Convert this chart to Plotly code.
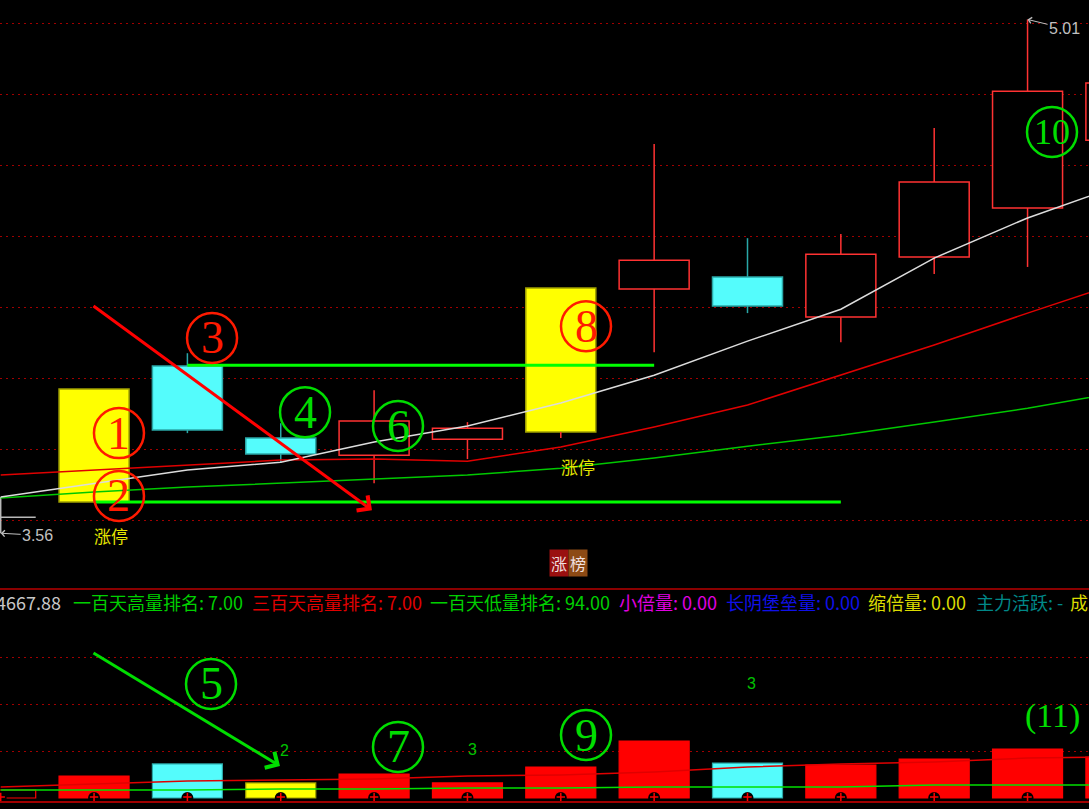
import plotly.graph_objects as go

W, H = 1089, 809

# ---------------- data ----------------
idx = list(range(13))
opens  = [3.608, 3.651, 4.034, 3.831, 3.783, 3.828, 3.848, 4.251, 4.285, 4.172, 4.341, 4.479, 4.670]
highs  = [3.665, 3.969, 4.070, 3.873, 3.966, 3.876, 4.254, 4.659, 4.394, 4.406, 4.704, 5.010, 4.900]
lows   = [3.563, 3.651, 3.845, 3.761, 3.704, 3.772, 3.831, 4.073, 4.183, 4.101, 4.293, 4.313, 4.600]
closes = [3.608, 3.969, 3.854, 3.786, 3.879, 3.859, 4.254, 4.332, 4.203, 4.349, 4.552, 4.808, 4.831]
limit_up = [0, 1, 0, 0, 0, 0, 1, 0, 0, 0, 0, 0, 0]

ma5  = [3.665, 3.704, 3.741, 3.763, 3.820, 3.865, 3.930, 4.008, 4.104, 4.194, 4.338, 4.451, 4.544]
ma10 = [3.727, 3.741, 3.755, 3.769, 3.772, 3.766, 3.806, 3.862, 3.924, 4.008, 4.093, 4.183, 4.270]
ma20 = [3.662, 3.679, 3.693, 3.704, 3.715, 3.727, 3.746, 3.775, 3.808, 3.839, 3.876, 3.915, 3.961]

volume   = [850, 2340, 3620, 1600, 2550, 1600, 3300, 6060, 3720, 3510, 4150, 5210, 4360]
vol_kind = ['hollow', 'red', 'cyan', 'yellow', 'red', 'red', 'red', 'red', 'cyan', 'red', 'red', 'red', 'red']
vol_ma_a = [1170, 1490, 1810, 1915, 2020, 2340, 2450, 2770, 3300, 3620, 3830, 4255, 4360]
vol_ma_b = [850, 850, 850, 960, 960, 1060, 1060, 1170, 1170, 1170, 1380, 1380, 1380]

# support / resistance lines: (start idx, end idx, price)
hlines = [(2, 7, 4.036), (1, 9, 3.651)]

price_ticks = [3.6, 3.8, 4.0, 4.2, 4.4, 4.6, 4.8, 5.0]
vol_ticks = [5000, 10000, 15000]

limit_labels = [(1, '涨停', -33), (6, '涨停', -28)]
count_labels = [(3.045, 5100, '2'), (5.05, 5210, '3'), (8.04, 12130, '3')]

info_items = [
    ('4667.88', '#c8c8c8', 63, 'right'),
    ('一百天高量排名: 7.00', '#00d000', 71, 'left'),
    ('三百天高量排名: 7.00', '#e00000', 250, 'left'),
    ('一百天低量排名: 94.00', '#00d000', 428, 'left'),
    ('小倍量: 0.00', '#e000e0', 617, 'left'),
    ('长阴堡垒量: 0.00', '#1010e8', 724, 'left'),
    ('缩倍量: 0.00', '#dcdc00', 866, 'left'),
    ('主力活跃: -', '#008888', 974, 'left'),
    ('成交量: ', '#dcdc00', 1068, 'left'),
]

# circled markers: (text, x idx, value, color, axis)
RED_C = '#ff1a00'
GRN_C = '#00dd00'
circled = [
    ('1', 1.267, 3.845, RED_C, 'y'),
    ('2', 1.267, 3.668, RED_C, 'y'),
    ('3', 2.264, 4.113, RED_C, 'y'),
    ('4', 3.260, 3.904, GRN_C, 'y'),
    ('6', 4.256, 3.865, GRN_C, 'y'),
    ('8', 6.270, 4.146, RED_C, 'y'),
    ('10', 11.262, 4.693, GRN_C, 'y'),
    ('5', 2.253, 12130, GRN_C, 'y2'),
    ('7', 4.256, 5430, GRN_C, 'y2'),
    ('9', 6.270, 6700, GRN_C, 'y2'),
]
plain_marks = [('(11)', 11.262, 8720, GRN_C, 'y2')]

# ---------------- colours ----------------
UP = '#ff3232'
DN_FILL = '#54fcfc'
DN_LINE = '#2aa8a8'
YEL = '#ffff00'
YEL_LINE = '#a0a000'
DOJI = '#b8b8b8'

fig = go.Figure()

# wicks
def wick_xy(sel):
    xs, ys = [], []
    for i, o, h, l, c in zip(idx, opens, highs, lows, closes):
        if not sel(o, c):
            continue
        top, bot = max(o, c), min(o, c)
        if h > top:
            xs += [i, i, None]; ys += [h, top, None]
        if l < bot:
            xs += [i, i, None]; ys += [bot, l, None]
    return xs, ys

xs, ys = wick_xy(lambda o, c: c > o)
fig.add_trace(go.Scatter(x=xs, y=ys, mode='lines', line=dict(color=UP, width=1.5), hoverinfo='skip'))
xs, ys = wick_xy(lambda o, c: c < o)
fig.add_trace(go.Scatter(x=xs, y=ys, mode='lines', line=dict(color=DN_LINE, width=1.5), hoverinfo='skip'))
# doji
dx, dy = [], []
for i, o, h, l, c in zip(idx, opens, highs, lows, closes):
    if o == c:
        dx += [i - 0.375, i + 0.375, None, i, i, None]
        dy += [o, o, None, h, l, None]
fig.add_trace(go.Scatter(x=dx, y=dy, mode='lines', line=dict(color=DOJI, width=1.5), hoverinfo='skip'))

# bodies
b_base, b_h, b_fill, b_line = [], [], [], []
for o, c, lu in zip(opens, closes, limit_up):
    if o == c:
        b_base.append(None); b_h.append(None); b_fill.append('black'); b_line.append(DOJI)
        continue
    b_base.append(min(o, c)); b_h.append(abs(c - o))
    if lu:
        b_fill.append(YEL); b_line.append(YEL_LINE)
    elif c > o:
        b_fill.append('black'); b_line.append(UP)
    else:
        b_fill.append(DN_FILL); b_line.append(DN_LINE)
fig.add_trace(go.Bar(x=idx, y=b_h, base=b_base, width=0.75,
                     marker=dict(color=b_fill, line=dict(color=b_line, width=1.5)), hoverinfo='skip'))

# moving averages
fig.add_trace(go.Scatter(x=idx, y=ma20, mode='lines', line=dict(color='#00c800', width=1.5), hoverinfo='skip'))
fig.add_trace(go.Scatter(x=idx, y=ma10, mode='lines', line=dict(color='#e00000', width=1.5), hoverinfo='skip'))
fig.add_trace(go.Scatter(x=idx, y=ma5, mode='lines', line=dict(color='#dcdcdc', width=1.5), hoverinfo='skip'))

# support / resistance
for x0, x1, p in hlines:
    fig.add_trace(go.Scatter(x=[x0, x1], y=[p, p], mode='lines', line=dict(color='#00ff00', width=3), hoverinfo='skip'))

# volume bars
kind_fill = {'hollow': 'black', 'red': '#ff0000', 'cyan': DN_FILL, 'yellow': YEL}
kind_line = {'hollow': '#ff0000', 'red': '#ff0000', 'cyan': DN_LINE, 'yellow': YEL_LINE}
fig.add_trace(go.Bar(x=idx, y=volume, width=0.75, yaxis='y2',
                     marker=dict(color=[kind_fill[k] for k in vol_kind],
                                 line=dict(color=[kind_line[k] for k in vol_kind], width=1.2)),
                     hoverinfo='skip'))
fig.add_trace(go.Scatter(x=idx, y=vol_ma_b, yaxis='y2', mode='lines', line=dict(color='#00e000', width=1.5), hoverinfo='skip'))
fig.add_trace(go.Scatter(x=idx, y=vol_ma_a, yaxis='y2', mode='lines', line=dict(color='#e00000', width=1.5), hoverinfo='skip'))
fig.add_trace(go.Scatter(x=idx, y=[0] * len(idx), yaxis='y2', mode='markers',
                         marker=dict(symbol='circle', size=12, color='black'), hoverinfo='skip'))
fig.add_trace(go.Scatter(x=idx, y=[110] * len(idx), yaxis='y2', mode='markers',
                         marker=dict(symbol='cross-thin', size=6, line=dict(color='#ff0000', width=1.5)),
                         hoverinfo='skip'))

# ---------------- layout ----------------
x_lo = -0.7 / 93.35
x_hi = (W - 0.7) / 93.35
main_bottom = (H - 589) / H
vol_top = (H - 590) / H

grid_style = dict(showgrid=True, gridcolor='#a00000', griddash='2px,4px', gridwidth=1,
                  zeroline=False, showline=False, showticklabels=False, ticks='')

fig.update_layout(
    width=W, height=H, margin=dict(l=0, r=0, t=0, b=0),
    paper_bgcolor='black', plot_bgcolor='black', showlegend=False,
    barmode='overlay', font=dict(family='Noto Sans CJK SC'),
    xaxis=dict(range=[x_lo, x_hi], showgrid=False, zeroline=False, showticklabels=False,
               ticks='', showline=False, fixedrange=True),
    yaxis=dict(domain=[main_bottom, 1], range=[3.406, 5.0648], tickvals=price_ticks, **grid_style),
    yaxis2=dict(domain=[0, vol_top], range=[-1170, 22128], tickvals=vol_ticks, anchor='x', **grid_style),
)

shapes = [
    dict(type='line', xref='paper', yref='paper', x0=0, x1=1, y0=(H - 589) / H, y1=(H - 589) / H,
         line=dict(color='#8b0000', width=2)),
    dict(type='line', xref='paper', yref='paper', x0=0, x1=1, y0=(H - 802) / H, y1=(H - 802) / H,
         line=dict(color='#a00000', width=2), layer='above'),
]
annotations = []

for t, xi, v, col, ax in circled:
    shapes.append(dict(type='circle', xref='x', yref=ax, xsizemode='pixel', ysizemode='pixel',
                       xanchor=xi, yanchor=v, x0=-25, x1=25, y0=-25, y1=25,
                       line=dict(color=col, width=2.5), layer='above'))
    annotations.append(dict(x=xi, y=v, xref='x', yref=ax, text=t, showarrow=False,
                            font=dict(family='Liberation Serif', size=46 if len(t) == 1 else 36, color=col)))
for t, xi, v, col, ax in plain_marks:
    annotations.append(dict(x=xi, y=v, xref='x', yref=ax, text=t, showarrow=False,
                            font=dict(family='Liberation Serif', size=34, color=col)))

# arrows
annotations.append(dict(x=3.977, y=3.628, ax=0.978, ay=4.206, xref='x', yref='y', axref='x', ayref='y',
                        text='', showarrow=True, arrowhead=4, arrowsize=1.2, arrowwidth=3,
                        arrowcolor='#ff0000', standoff=0))
annotations.append(dict(x=2.992, y=3404, ax=0.978, ay=15532, xref='x', yref='y2', axref='x', ayref='y2',
                        text='', showarrow=True, arrowhead=4, arrowsize=1.2, arrowwidth=3,
                        arrowcolor='#00dd00', standoff=0))

# high / low markers
hi_i = max(idx, key=lambda i: highs[i])
lo_i = min(idx, key=lambda i: lows[i])
annotations.append(dict(x=hi_i, y=highs[hi_i], xref='x', yref='y', text=f'{highs[hi_i]:.2f}',
                        showarrow=True, ax=37, ay=9, arrowhead=4, arrowsize=1.2, arrowwidth=1,
                        arrowcolor='#c0c0c0', font=dict(family='Liberation Sans', size=16, color='#c0c0c0')))
annotations.append(dict(x=lo_i, y=lows[lo_i], xref='x', yref='y', text=f'{lows[lo_i]:.2f}',
                        showarrow=True, ax=37, ay=2, arrowhead=4, arrowsize=1.2, arrowwidth=1,
                        arrowcolor='#c0c0c0', font=dict(family='Liberation Sans', size=16, color='#c0c0c0')))

for i, t, sh in limit_labels:
    annotations.append(dict(x=i, y=lows[i], xref='x', yref='y', text=t, showarrow=False,
                            xanchor='left', xshift=-2, yshift=sh,
                            font=dict(family='Noto Sans CJK SC', size=17, color='#e6e600')))

for xi, v, t in count_labels:
    annotations.append(dict(x=xi, y=v, xref='x', yref='y2', text=t, showarrow=False,
                            font=dict(family='Liberation Sans', size=16, color='#00c000')))

# badge
annotations.append(dict(x=558.5 / W, y=(H - 577) / H, xref='paper', yref='paper', text='涨', showarrow=False,
                        bgcolor='#9a1010', borderpad=1, font=dict(family='Noto Sans CJK SC', size=16, color='#f0e0e0')))
annotations.append(dict(x=577.5 / W, y=(H - 577) / H, xref='paper', yref='paper', text='榜', showarrow=False,
                        bgcolor='#8c4a14', borderpad=1, font=dict(family='Noto Sans CJK SC', size=16, color='#f0e0e0')))

for t, col, px, anc in info_items:
    annotations.append(dict(x=px / W, y=(H - 602) / H, xref='paper', yref='paper', text=t, showarrow=False,
                            xanchor=anc, yanchor='middle',
                            font=dict(family='Noto Sans CJK SC', size=18, color=col)))

fig.update_layout(shapes=shapes, annotations=annotations)

fig.write_html("out.html", config={'displayModeBar': False},
               post_script="document.body.style.margin='0';document.body.style.overflow='hidden';")
